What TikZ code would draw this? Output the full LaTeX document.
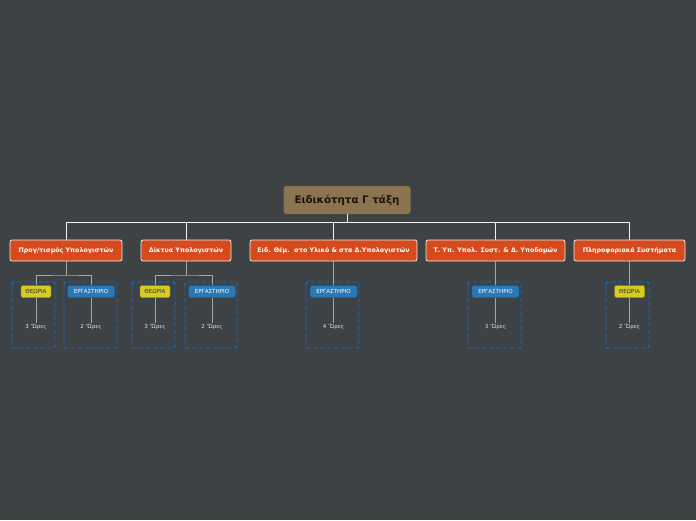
\documentclass[tikz,border=0pt]{standalone}
\usepackage{fontspec}
\setmainfont{DejaVu Sans}
\begin{document}
\begin{tikzpicture}[x=1pt,y=-1pt,
 l1/.style={draw=white!85!gray,line width=0.8pt,rounded corners=2pt,fill=orange1,text=white,font=\bfseries\fontsize{6.3}{7}\selectfont,minimum height=21pt,inner xsep=2pt},
 theo/.style={draw=yellow2,rounded corners=1.5pt,fill=yellow1,text=black!80,font=\fontsize{5.6}{6}\selectfont,minimum height=12pt,minimum width=30pt,inner xsep=1pt},
 erg/.style={draw=blue2,rounded corners=1.5pt,fill=blue1,text=white,font=\fontsize{5.6}{6}\selectfont,minimum height=12pt,minimum width=47pt,inner xsep=1pt},
 hrs/.style={text=white!80!gray,font=\fontsize{5.5}{6}\selectfont,inner sep=1pt},
 dbox/.style={draw=dblue,dash pattern=on 4.5pt off 2.5pt,line width=0.9pt,rounded corners=2pt},
 ln/.style={draw=white!90!gray,line width=0.7pt},
 ln2/.style={draw=gray!70,line width=0.8pt}]
\definecolor{bg}{HTML}{3D4244}
\definecolor{orange1}{HTML}{D64A1E}
\definecolor{yellow1}{HTML}{D6CB22}
\definecolor{yellow2}{HTML}{9A9010}
\definecolor{blue1}{HTML}{2A78B6}
\definecolor{blue2}{HTML}{1A5585}
\definecolor{dblue}{HTML}{1A6FD6}
\definecolor{rootc}{HTML}{8A7550}
\fill[bg] (0,0) rectangle (696,520);
\useasboundingbox (0,0) rectangle (696,520);
\node[fill=rootc,rounded corners=3pt,minimum width=127pt,minimum height=28pt,text=black!85!brown,font=\bfseries\fontsize{10.3}{11}\selectfont] (root) at (347,200) {Ειδικότητα Γ τάξη};
\node[l1,minimum width=112pt] (A) at (66,250.5) {Προγ/τισμός Υπολογιστών};
\node[l1,minimum width=90pt] (B) at (186,250.5) {Δίκτυα Υπολογιστών};
\node[l1,minimum width=167pt] (C) at (333.5,250.5) {Ειδ. Θέμ.\ \ στο Υλικό \& στα Δ.Υπολογιστών};
\node[l1,minimum width=139pt] (D) at (495.5,250.5) {Τ. Υπ. Υπολ. Συστ. \& Δ. Υποδομών};
\node[l1,minimum width=111pt] (E) at (629.5,250.5) {Πληροφοριακά Συστήματα};
\coordinate (bus) at (347,222);
\draw[ln] (root.south) -- (bus);
\foreach \n in {A,B,C,D,E}{\draw[ln] (\n.north) |- (bus);}
\draw[dbox] (12,282) rectangle (55,348);
\draw[dbox] (64,282) rectangle (117,348);
\draw[dbox] (132,282) rectangle (175,348);
\draw[dbox] (185,282) rectangle (237,348);
\draw[dbox] (306,282) rectangle (359,348);
\draw[dbox] (468,282) rectangle (521,348);
\draw[dbox] (606,282) rectangle (649,348);
\node[theo] (a1) at (36,291.5) {ΘΕΩΡΙΑ};
\node[erg] (a2) at (91,291.5) {ΕΡΓΑΣΤΗΡΙΟ};
\node[theo] (b1) at (155,291.5) {ΘΕΩΡΙΑ};
\node[erg] (b2) at (212,291.5) {ΕΡΓΑΣΤΗΡΙΟ};
\node[erg] (c1) at (333.5,291.5) {ΕΡΓΑΣΤΗΡΙΟ};
\node[erg] (d1) at (495.5,291.5) {ΕΡΓΑΣΤΗΡΙΟ};
\node[theo] (e1) at (629.5,291.5) {ΘΕΩΡΙΑ};
\node[hrs] (ha1) at (36,327) {3 'Ώρες};
\node[hrs] (ha2) at (91,327) {2 'Ώρες};
\node[hrs] (hb1) at (155,327) {3 'Ώρες};
\node[hrs] (hb2) at (212,327) {2 'Ώρες};
\node[hrs] (hc1) at (333.5,327) {4 'Ώρες};
\node[hrs] (hd1) at (495.5,327) {3 'Ώρες};
\node[hrs] (he1) at (629.5,327) {2 'Ώρες};
\coordinate (abus) at (66,275);
\coordinate (bbus) at (186,275);
\draw[ln2] (A.south) -- (abus);
\draw[ln2] (a1.north) |- (abus) -| (a2.north);
\draw[ln2] (B.south) -- (bbus);
\draw[ln2] (b1.north) |- (bbus) -| (b2.north);
\draw[ln2] (C.south) -- (c1.north);
\draw[ln2] (D.south) -- (d1.north);
\draw[ln2] (E.south) -- (e1.north);
\foreach \p/\h in {a1/ha1,a2/ha2,b1/hb1,b2/hb2,c1/hc1,d1/hd1,e1/he1}{\draw[ln2] (\p.south) -- (\h.north);}
\end{tikzpicture}
\end{document}
